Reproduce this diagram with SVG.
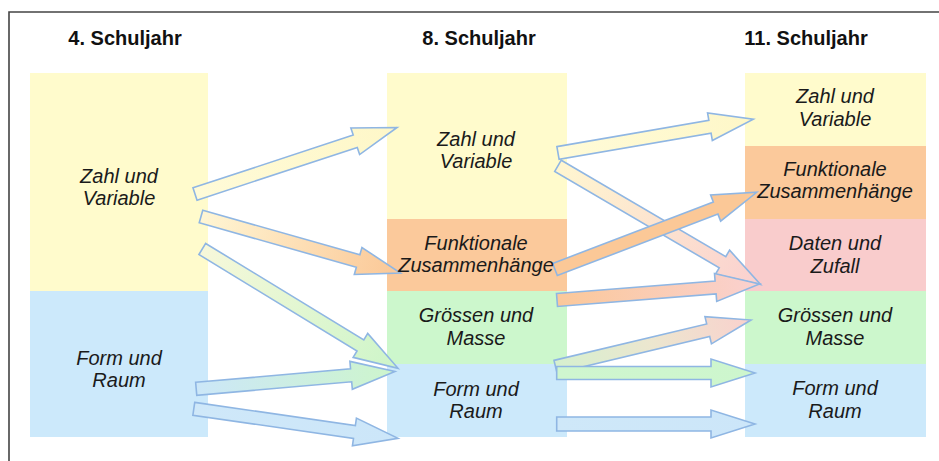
<svg xmlns="http://www.w3.org/2000/svg" width="939" height="461" viewBox="0 0 939 461">
<style>
.hdr{font-family:"Liberation Sans",Arial,sans-serif;font-weight:bold;font-size:20px;fill:#111;text-anchor:middle}
.lbl{font-family:"Liberation Sans",Arial,sans-serif;font-style:italic;font-size:20px;fill:#1a1a1a;text-anchor:middle}
.arr{stroke:#8fb6e3;stroke-width:1.6;stroke-linejoin:miter}
.y{fill:#fffbcc}.o{fill:#fbc99b}.g{fill:#ccf7cc}.b{fill:#cce9fb}.p{fill:#f9cccc}
</style>
<defs>
<linearGradient id="gY" x1="0" y1="0" x2="1" y2="0"><stop offset="0" stop-color="#fffbd8"/><stop offset="1" stop-color="#fef7c8"/></linearGradient>
<linearGradient id="gYO" x1="0" y1="0" x2="1" y2="0"><stop offset="0" stop-color="#fff6d4"/><stop offset="1" stop-color="#fbc796"/></linearGradient>
<linearGradient id="gYG" x1="0" y1="0" x2="1" y2="0"><stop offset="0" stop-color="#f7f8da"/><stop offset="1" stop-color="#cdf5c9"/></linearGradient>
<linearGradient id="gBG" x1="0" y1="0" x2="1" y2="0"><stop offset="0" stop-color="#cce7f8"/><stop offset="1" stop-color="#cdf5cc"/></linearGradient>
<linearGradient id="gB" x1="0" y1="0" x2="1" y2="0"><stop offset="0" stop-color="#cfe8f9"/><stop offset="1" stop-color="#cce6f9"/></linearGradient>
<linearGradient id="gYP" x1="0" y1="0" x2="1" y2="0"><stop offset="0" stop-color="#fff6d0"/><stop offset="1" stop-color="#fad0cf"/></linearGradient>
<linearGradient id="gO" x1="0" y1="0" x2="1" y2="0"><stop offset="0" stop-color="#fbc897"/><stop offset="1" stop-color="#fbc897"/></linearGradient>
<linearGradient id="gOP" x1="0" y1="0" x2="1" y2="0"><stop offset="0" stop-color="#fbc89a"/><stop offset="1" stop-color="#fad1cf"/></linearGradient>
<linearGradient id="gGP" x1="0" y1="0" x2="1" y2="0"><stop offset="0" stop-color="#d6f0cf"/><stop offset="0.5" stop-color="#ece6cf"/><stop offset="1" stop-color="#f9d1cd"/></linearGradient>
<linearGradient id="gG" x1="0" y1="0" x2="1" y2="0"><stop offset="0" stop-color="#cff6cf"/><stop offset="1" stop-color="#cdf6cd"/></linearGradient>
</defs>
<rect x="0" y="0" width="939" height="461" fill="#ffffff"/>
<g id="frame" fill="none" stroke="#444" stroke-width="1.6">
<path d="M9,461 V12 H939"/>
</g>
<g id="headers">
<text class="hdr" x="125" y="45">4. Schuljahr</text>
<text class="hdr" x="479" y="45">8. Schuljahr</text>
<text class="hdr" x="806" y="45">11. Schuljahr</text>
</g>
<g id="c1-zahl"><rect class="y" x="30" y="73" width="178" height="218"/></g>
<g id="c1-form"><rect class="b" x="30" y="291" width="178" height="146"/></g>
<g id="c2-zahl"><rect class="y" x="387" y="73" width="180" height="146"/></g>
<g id="c2-funk"><rect class="o" x="387" y="219" width="180" height="72"/></g>
<g id="c2-groe"><rect class="g" x="387" y="291" width="180" height="73"/></g>
<g id="c2-form"><rect class="b" x="387" y="364" width="180" height="73"/></g>
<g id="c3-zahl"><rect class="y" x="745" y="73" width="181" height="73"/></g>
<g id="c3-funk"><rect class="o" x="745" y="146" width="181" height="73"/></g>
<g id="c3-daten"><rect class="p" x="745" y="219" width="181" height="72"/></g>
<g id="c3-groe"><rect class="g" x="745" y="291" width="181" height="73"/></g>
<g id="c3-form"><rect class="b" x="745" y="364" width="181" height="73"/></g>
<g id="connectors" class="arr">
<path class="arr" fill="url(#gY)" transform="translate(195,194) rotate(-18.22)" d="M0,-6.5 H168.7 V-14 L212.7,0 L168.7,14 V6.5 H0 Z"/>
<path class="arr" fill="url(#gYO)" transform="translate(201,216.5) rotate(15.81)" d="M0,-6.5 H163.3 V-14 L207.3,0 L163.3,14 V6.5 H0 Z"/>
<path class="arr" fill="url(#gYG)" transform="translate(202.3,249) rotate(31.37)" d="M0,-6.5 H185.2 V-14 L229.2,0 L185.2,14 V6.5 H0 Z"/>
<path class="arr" fill="url(#gBG)" transform="translate(196.2,388.8) rotate(-4.97)" d="M0,-6.5 H155.5 V-14 L199.5,0 L155.5,14 V6.5 H0 Z"/>
<path class="arr" fill="url(#gB)" transform="translate(193.8,408.8) rotate(8.22)" d="M0,-6.5 H162.3 V-14 L206.3,0 L162.3,14 V6.5 H0 Z"/>
<path class="arr" fill="url(#gY)" transform="translate(558,153) rotate(-9.79)" d="M0,-6.5 H154.2 V-14 L198.2,0 L154.2,14 V6.5 H0 Z"/>
<path class="arr" fill="url(#gYP)" transform="translate(558,165.8) rotate(30.38)" d="M0,-6.5 H190.7 V-14 L234.7,0 L190.7,14 V6.5 H0 Z"/>
<path class="arr" fill="url(#gO)" transform="translate(555,269.5) rotate(-20.94)" d="M0,-6.5 H172 V-14 L216,0 L172,14 V6.5 H0 Z"/>
<path class="arr" fill="url(#gOP)" transform="translate(557,300) rotate(-4.52)" d="M0,-6.5 H159.1 V-14 L203.1,0 L159.1,14 V6.5 H0 Z"/>
<path class="arr" fill="url(#gGP)" transform="translate(555.5,366.7) rotate(-13.43)" d="M0,-6.5 H157 V-14 L201,0 L157,14 V6.5 H0 Z"/>
<path class="arr" fill="url(#gG)" transform="translate(556.7,373)" d="M0,-6.5 H154.3 V-14 L198.3,0 L154.3,14 V6.5 H0 Z"/>
<path class="arr" fill="url(#gB)" transform="translate(556.7,424)" d="M0,-7 H154.3 V-14 L198.3,0 L154.3,14 V7 H0 Z"/>
</g>
<g id="labels">
<g id="c1-zahl-label"><text class="lbl" x="119" y="183">Zahl und</text><text class="lbl" x="119" y="205">Variable</text></g>
<g id="c1-form-label"><text class="lbl" x="119" y="365">Form und</text><text class="lbl" x="119" y="387">Raum</text></g>
<g id="c2-zahl-label"><text class="lbl" x="476" y="146">Zahl und</text><text class="lbl" x="476" y="168">Variable</text></g>
<g id="c2-funk-label"><text class="lbl" x="476" y="250">Funktionale</text><text class="lbl" x="476" y="272">Zusammenhänge</text></g>
<g id="c2-groe-label"><text class="lbl" x="476" y="322">Grössen und</text><text class="lbl" x="476" y="345">Masse</text></g>
<g id="c2-form-label"><text class="lbl" x="476" y="396">Form und</text><text class="lbl" x="476" y="418">Raum</text></g>
<g id="c3-zahl-label"><text class="lbl" x="835" y="103">Zahl und</text><text class="lbl" x="835" y="126">Variable</text></g>
<g id="c3-funk-label"><text class="lbl" x="835" y="176">Funktionale</text><text class="lbl" x="835" y="198">Zusammenhänge</text></g>
<g id="c3-daten-label"><text class="lbl" x="835" y="250">Daten und</text><text class="lbl" x="835" y="273">Zufall</text></g>
<g id="c3-groe-label"><text class="lbl" x="835" y="322">Grössen und</text><text class="lbl" x="835" y="345">Masse</text></g>
<g id="c3-form-label"><text class="lbl" x="835" y="395">Form und</text><text class="lbl" x="835" y="418">Raum</text></g>
</g>
</svg>
